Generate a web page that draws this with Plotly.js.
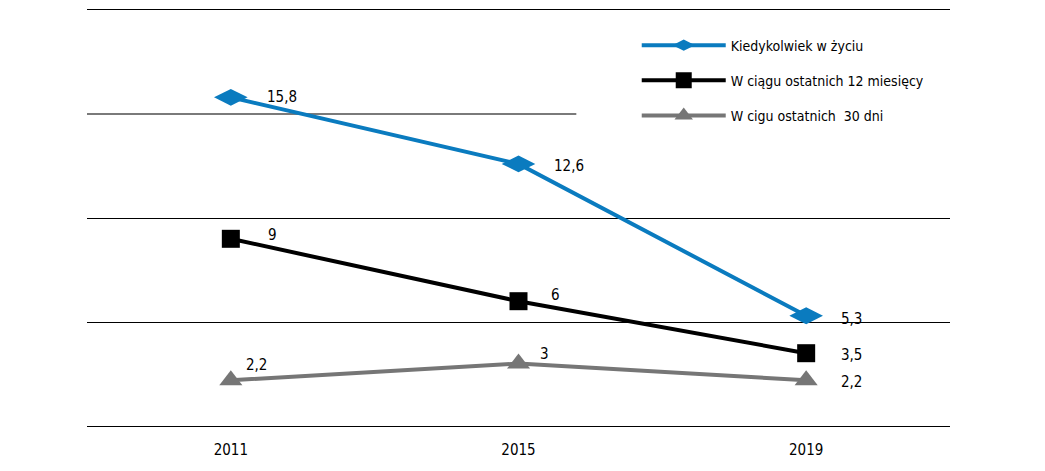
<!DOCTYPE html>
<html>
<head>
<meta charset="utf-8">
<script src="https://cdn.plot.ly/plotly-3.0.1.min.js"></script>
<style>html,body{margin:0;padding:0;background:#fff;}</style>
</head>
<body>
<div id="chart" style="width:1045px;height:471px;"></div>
<script>
const years = ["2011", "2015", "2019"];
const seriesNames = ["Kiedykolwiek w życiu", "W ciągu ostatnich 12 miesięcy", "W cigu ostatnich  30 dni"];
const lifetime = [15.8, 12.6, 5.3];
const last12m = [9, 6, 3.5];
const last30d = [2.2, 3, 2.2];

const FONT = "'Liberation Sans Narrow', 'DejaVu Sans Condensed', sans-serif";
const fmt = v => String(v).replace('.', ',');

const traces = [
  {x: years, y: lifetime, name: seriesNames[0], type: 'scatter', mode: 'lines+markers',
   line: {color: '#0a7bbf', width: 4}, marker: {symbol: 'diamond-wide', size: 24, color: '#0a7bbf'}, legendgroup: 'a'},
  {x: years, y: last12m, name: seriesNames[1], type: 'scatter', mode: 'lines+markers',
   line: {color: '#000000', width: 4}, marker: {symbol: 'square', size: 18, color: '#000000'}, legendgroup: 'b'},
  {x: years, y: last30d, name: seriesNames[2], type: 'scatter', mode: 'lines+markers',
   line: {color: '#767676', width: 4}, marker: {symbol: 'triangle-up', size: 20, color: '#767676'}, legendgroup: 'c'}
];

const annots = [];
const offs = [
  [[51, 0], [50, -2], [45, -3]],
  [[42, 4], [37, 6], [45, -2]],
  [[26, 15], [26, 10], [45, -2]]
];
[lifetime, last12m, last30d].forEach((arr, s) => {
  arr.forEach((v, i) => {
    annots.push({xref: 'x', yref: 'y', x: years.indexOf(years[i]), y: v, text: fmt(v), showarrow: false,
      xshift: offs[s][i][0], yshift: offs[s][i][1],
      font: {size: 15, color: '#000'}});
  });
});

const layout = {
  width: 1045, height: 471,
  margin: {l: 87, r: 95, t: 10, b: 45},
  paper_bgcolor: '#fff', plot_bgcolor: '#fff',
  font: {family: FONT, size: 14, color: '#000'},
  xaxis: {type: 'category', range: [-0.5, 2.5], showgrid: false, zeroline: false,
          showline: true, mirror: true, linecolor: '#000', linewidth: 1,
          ticks: 'outside', ticklen: 10, tickcolor: 'rgba(0,0,0,0)', tickfont: {family: FONT, size: 15}},
  yaxis: {range: [0, 20], tickvals: [0, 5, 10, 20], showticklabels: false, gridcolor: '#000', gridwidth: 1,
          zeroline: false, showline: false, fixedrange: true},
  shapes: [{type: 'line', xref: 'paper', yref: 'y', x0: 0, x1: 0.567, y0: 15, y1: 15,
            line: {color: '#7a7a7a', width: 2}, layer: 'below'}],
  showlegend: true,
  legend: {x: 0.637, y: 0.953, xanchor: 'left', yanchor: 'top', bgcolor: 'rgba(255,255,255,0)',
           itemwidth: 84, traceorder: 'grouped', tracegroupgap: 14, font: {family: FONT, size: 14}},
  annotations: annots
};

Plotly.newPlot('chart', traces, layout, {displayModeBar: false, staticPlot: true});
</script>
</body>
</html>
